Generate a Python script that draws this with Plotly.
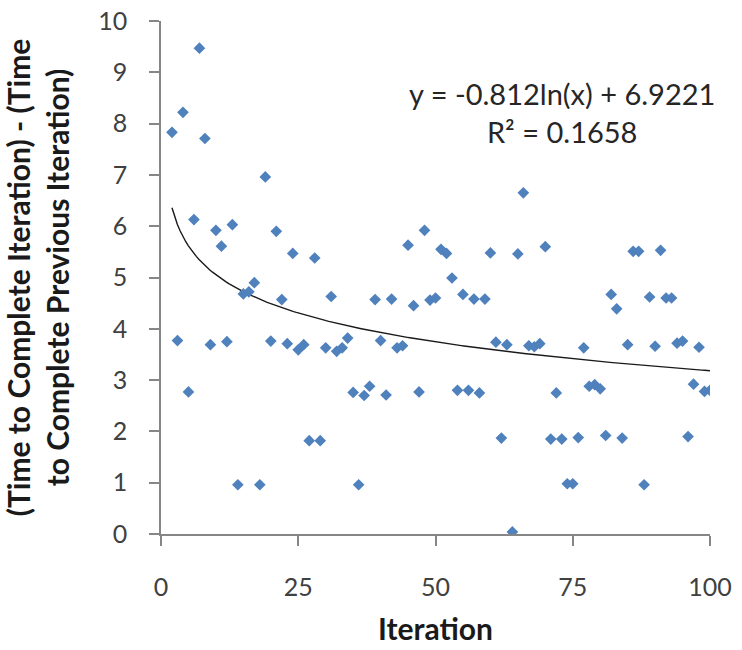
import numpy as np
import plotly.graph_objects as go

iteration = list(range(2, 101))
delta_time = [
    7.83, 3.77, 8.22, 2.77, 6.13, 9.47, 7.71, 3.69, 5.92,   # 2-10
    5.61, 3.75, 6.03, 0.96, 4.68, 4.72, 4.90, 0.96, 6.96, 3.76,  # 11-20
    5.90, 4.57, 3.71, 5.47, 3.59, 3.69, 1.82, 5.38, 1.82, 3.63,  # 21-30
    4.63, 3.56, 3.63, 3.82, 2.76, 0.96, 2.70, 2.88, 4.57, 3.77,  # 31-40
    2.71, 4.58, 3.63, 3.67, 5.63, 4.45, 2.77, 5.92, 4.56, 4.60,  # 41-50
    5.55, 5.47, 4.99, 2.80, 4.67, 2.80, 4.58, 2.75, 4.58, 5.48,  # 51-60
    3.74, 1.87, 3.69, 0.04, 5.46, 6.65, 3.67, 3.65, 3.71, 5.60,  # 61-70
    1.85, 2.75, 1.85, 0.98, 0.98, 1.88, 3.63, 2.88, 2.91, 2.83,  # 71-80
    1.92, 4.67, 4.39, 1.87, 3.69, 5.51, 5.51, 0.96, 4.62, 3.66,  # 81-90
    5.53, 4.60, 4.60, 3.72, 3.76, 1.90, 2.92, 3.64, 2.78, 2.80,  # 91-100
]

trend_slope = -0.812
trend_intercept = 6.9221
r_squared = 0.1658

x_ticks = [0, 25, 50, 75, 100]
y_ticks = list(range(0, 11))

trend_x = np.linspace(min(iteration), max(iteration), 200)
trend_y = trend_slope * np.log(trend_x) + trend_intercept

FONT = "Lato"
fig = go.Figure()
fig.add_trace(go.Scatter(
    x=trend_x, y=trend_y, mode="lines",
    line=dict(color="#1a1a1a", width=1.4), hoverinfo="skip", showlegend=False,
))
fig.add_trace(go.Scatter(
    x=iteration, y=delta_time, mode="markers",
    marker=dict(symbol="diamond", size=9, color="#4F81BD", line=dict(width=0)),
    showlegend=False,
))

fig.add_annotation(
    x=0.73, y=0.822, xref="paper", yref="paper", xanchor="center", yanchor="middle",
    text=f"y = {trend_slope}ln(x) + {trend_intercept}<br>R² = {r_squared}",
    showarrow=False, align="center",
    font=dict(family=FONT, size=29, color="#262626"),
)

axis_common = dict(
    showline=True, linecolor="#868686", linewidth=1.5,
    ticks="outside", ticklen=10, tickcolor="#868686", tickwidth=1.5,
    showgrid=False, zeroline=False, automargin=False,
    ticklabeloverflow="allow",
    tickfont=dict(family=FONT, size=25, color="#404040"),
)

fig.update_xaxes(
    range=[0, 100], tickvals=x_ticks, ticktext=[str(v) for v in x_ticks],
    ticklabelstandoff=20,
    title=dict(text="<b>Iteration</b>", font=dict(family=FONT, size=30, color="#1a1a1a"), standoff=19),
    **axis_common,
)
fig.update_yaxes(
    range=[0, 10], tickvals=y_ticks, ticktext=[str(v) for v in y_ticks],
    ticklabelstandoff=17,
    title=dict(text="<b>(Time to Complete Iteration) - (Time<br>to Complete Previous Iteration)</b>",
               font=dict(family=FONT, size=30, color="#1a1a1a"), standoff=25),
    **axis_common,
)

fig.update_layout(
    width=742, height=650,
    margin=dict(l=161, r=32, t=21, b=116),
    paper_bgcolor="white", plot_bgcolor="white",
    font=dict(family=FONT),
)

fig.write_html("out.html", config={"displayModeBar": False},
               post_script="document.body.style.margin='0px';")
